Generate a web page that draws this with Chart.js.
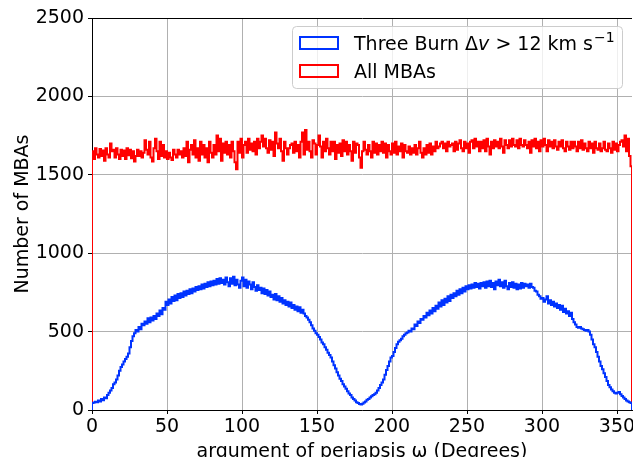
<!DOCTYPE html>
<html lang="en">
<head>
    <meta charset="UTF-8">
    <title>Argument of periapsis histogram</title>
    <script src="https://cdn.jsdelivr.net/npm/chart.js"></script>
    <style>
        html, body { margin: 0; padding: 0; background: #fff; }
        #wrap { width: 633px; height: 457px; }
    </style>
</head>
<body>
<div id="wrap"><canvas id="histChart" width="633" height="457"></canvas></div>
<script>
// histogram counts, one bin per degree (0..359)
const threeBurnCounts = [
    45, 48, 52, 50, 60, 55, 70, 62, 80, 75,
    95, 110, 125, 140, 165, 175, 195, 220, 250, 275,
    290, 310, 325, 340, 360, 400, 440, 470, 490, 510,
    500, 530, 515, 550, 540, 565, 550, 585, 560, 590,
    570, 600, 580, 615, 600, 635, 610, 650, 640, 690,
    670, 705, 680, 720, 695, 730, 700, 740, 715, 745,
    720, 755, 730, 760, 740, 770, 745, 775, 755, 785,
    765, 790, 770, 800, 775, 805, 785, 815, 790, 820,
    795, 825, 800, 835, 805, 840, 810, 830, 800, 845,
    815, 790, 840, 805, 850, 795, 830, 800, 780, 825,
    845, 790, 830, 780, 820, 800, 770, 815, 785, 760,
    795, 765, 780, 745, 775, 740, 765, 730, 755, 720,
    735, 705, 740, 700, 725, 690, 715, 680, 700, 670,
    690, 660, 685, 650, 670, 640, 660, 630, 655, 620,
    640, 615, 600, 590, 575, 560, 540, 520, 505, 490,
    480, 465, 450, 430, 420, 400, 385, 365, 350, 335,
    310, 285, 265, 240, 220, 200, 185, 165, 150, 135,
    120, 105, 95, 80, 70, 60, 50, 45, 38, 35,
    40, 48, 55, 65, 70, 80, 88, 95, 100, 110,
    125, 140, 160, 175, 195, 225, 255, 280, 310, 335,
    345, 370, 395, 420, 435, 445, 455, 470, 480, 490,
    495, 505, 500, 520, 515, 545, 535, 565, 555, 580,
    575, 600, 590, 620, 605, 635, 615, 650, 630, 665,
    645, 685, 660, 700, 670, 710, 685, 725, 695, 735,
    715, 745, 725, 760, 735, 770, 745, 780, 755, 790,
    770, 795, 775, 800, 780, 810, 785, 805, 775, 810,
    790, 815, 780, 820, 790, 825, 785, 810, 770, 820,
    795, 830, 790, 815, 780, 825, 790, 770, 810, 785,
    815, 780, 805, 770, 800, 775, 810, 780, 805, 790,
    800, 780, 805, 785, 780, 760, 755, 735, 725, 710,
    715, 690, 705, 725, 680, 700, 670, 690, 660, 680,
    650, 670, 640, 665, 625, 645, 615, 630, 600, 620,
    580, 560, 545, 530, 525, 530, 520, 515, 510, 505,
    510, 500, 480, 450, 420, 400, 370, 340, 310, 280,
    260, 235, 210, 185, 160, 145, 130, 120, 110, 105,
    110, 115, 100, 90, 80, 70, 60, 55, 50, 45
];

const allMbaCounts = [
    1650, 1600, 1670, 1630, 1610, 1665, 1620, 1655, 1590, 1670,
    1630, 1610, 1700, 1650, 1660, 1610, 1670, 1630, 1600, 1660,
    1620, 1655, 1600, 1670, 1625, 1660, 1605, 1650, 1585, 1620,
    1660, 1620, 1650, 1610, 1640, 1720, 1660, 1630, 1710, 1610,
    1585, 1670, 1730, 1650, 1600, 1710, 1620, 1690, 1610, 1650,
    1600, 1640, 1610, 1595, 1660, 1630, 1610, 1660, 1630, 1650,
    1610, 1670, 1620, 1710, 1580, 1660, 1690, 1630, 1720, 1610,
    1670, 1590, 1710, 1630, 1690, 1610, 1670, 1580, 1710, 1640,
    1610, 1690, 1630, 1750, 1650, 1730, 1590, 1700, 1640, 1710,
    1630, 1690, 1610, 1710, 1650, 1580, 1535, 1710, 1640, 1730,
    1610, 1690, 1710, 1640, 1730, 1660, 1700, 1650, 1710, 1630,
    1730, 1670, 1710, 1750, 1680, 1730, 1670, 1640, 1720, 1660,
    1710, 1620, 1770, 1700, 1670, 1730, 1650, 1590, 1710, 1670,
    1630, 1670, 1690, 1700, 1640, 1710, 1650, 1690, 1610, 1710,
    1770, 1630, 1785, 1660, 1710, 1650, 1610, 1720, 1700, 1630,
    1690, 1750, 1680, 1610, 1710, 1650, 1730, 1670, 1630, 1710,
    1650, 1710, 1600, 1690, 1640, 1700, 1620, 1720, 1650, 1710,
    1630, 1690, 1650, 1590, 1710, 1640, 1700, 1690, 1610, 1545,
    1650, 1710, 1660, 1630, 1690, 1650, 1610, 1710, 1640, 1700,
    1630, 1690, 1650, 1710, 1640, 1700, 1610, 1690, 1650, 1630,
    1700, 1640, 1710, 1630, 1680, 1650, 1700, 1610, 1690, 1650,
    1640, 1680, 1630, 1670, 1640, 1690, 1630, 1670, 1710, 1640,
    1610, 1670, 1630, 1690, 1640, 1700, 1630, 1680, 1650, 1710,
    1670, 1680, 1700, 1710, 1670, 1700, 1650, 1710, 1680, 1690,
    1700, 1650, 1710, 1660, 1700, 1720, 1670, 1650, 1710, 1670,
    1700, 1640, 1710, 1720, 1670, 1730, 1680, 1710, 1650, 1710,
    1670, 1720, 1650, 1730, 1680, 1630, 1710, 1670, 1720, 1680,
    1710, 1670, 1730, 1680, 1640, 1720, 1690, 1670, 1720, 1680,
    1730, 1690, 1680, 1720, 1670, 1730, 1690, 1680, 1720, 1690,
    1670, 1710, 1640, 1720, 1680, 1730, 1670, 1710, 1650, 1720,
    1680, 1730, 1690, 1650, 1720, 1680, 1710, 1670, 1720, 1680,
    1660, 1710, 1680, 1720, 1670, 1650, 1710, 1680, 1660, 1710,
    1670, 1710, 1680, 1650, 1710, 1670, 1720, 1660, 1700, 1670,
    1650, 1710, 1670, 1700, 1640, 1710, 1670, 1660, 1700, 1650,
    1670, 1710, 1660, 1650, 1700, 1670, 1640, 1710, 1660, 1700,
    1650, 1690, 1710, 1720, 1680, 1750, 1650, 1730, 1620, 1555
];

const xTicks = [0, 50, 100, 150, 200, 250, 300, 350];
const yTicks = [0, 500, 1000, 1500, 2000, 2500];
const binWidth = 1;   // degrees

// turn bin counts into a step outline (like matplotlib histtype='step')
function stepOutline(counts) {
    const pts = [{ x: 0, y: 0 }];
    counts.forEach((c, i) => pts.push({ x: i * binWidth, y: c }));
    pts.push({ x: counts.length * binWidth, y: 0 });
    return pts;
}

const FONT = 'DejaVu Sans';

// legend drawn inside the plot, top right
const insideLegend = {
    id: 'insideLegend',
    afterDraw(chart) {
        const ctx = chart.ctx;
        ctx.save();
        // frame
        const bx = 292.5, by = 26.5, bw = 330, bh = 62;
        ctx.fillStyle = 'rgba(255,255,255,0.8)';
        ctx.strokeStyle = '#cccccc';
        ctx.lineWidth = 1;
        ctx.beginPath();
        ctx.roundRect(bx, by, bw, bh, 4);
        ctx.fill();
        ctx.stroke();

        // swatches
        ctx.lineWidth = 2;
        ctx.strokeStyle = '#0033ff';
        ctx.strokeRect(300, 37, 38, 12);
        ctx.strokeStyle = '#ff0000';
        ctx.strokeRect(300, 65, 38, 12);

        // labels
        ctx.fillStyle = '#000';
        ctx.textBaseline = 'alphabetic';
        let x = 354;
        const y1 = 50;
        const parts = [
            ['Three Burn Δ', '19px'],
            ['v', 'italic 19px'],
            [' > 12 km s', '19px']
        ];
        parts.forEach(([t, f]) => {
            ctx.font = f + ' "' + FONT + '"';
            ctx.fillText(t, x, y1);
            x += ctx.measureText(t).width;
        });
        ctx.font = '14px "' + FONT + '"';
        ctx.fillText('\u22121', x + 1, y1 - 8);

        ctx.font = '19px "' + FONT + '"';
        ctx.fillText('All MBAs', 354, 78);
        ctx.restore();
    }
};

const ctx = document.getElementById('histChart').getContext('2d');
new Chart(ctx, {
    type: 'line',
    data: {
        datasets: [
            {
                label: 'Three Burn Δv > 12 km s⁻¹',
                data: stepOutline(threeBurnCounts),
                borderColor: '#0033ff',
                borderWidth: 2,
                stepped: 'before',
                pointRadius: 0,
                fill: false
            },
            {
                label: 'All MBAs',
                data: stepOutline(allMbaCounts),
                borderColor: '#ff0000',
                borderWidth: 2,
                stepped: 'before',
                pointRadius: 0,
                fill: false
            }
        ]
    },
    options: {
        responsive: false,
        animation: false,
        events: [],
        layout: { padding: { left: 0, top: 18, right: 1, bottom: 0 } },
        plugins: {
            legend: { display: false },
            tooltip: { enabled: false }
        },
        scales: {
            x: {
                type: 'linear',
                min: 0,
                max: 360,
                afterBuildTicks: s => { s.ticks = xTicks.map(v => ({ value: v })); },
                afterFit: s => { s.height = 47; s.paddingLeft = 0; s.paddingRight = 0; },
                ticks: {
                    autoSkip: false,
                    maxRotation: 0,
                    padding: 2,
                    color: '#000',
                    font: { family: FONT, size: 19 },
                    callback: v => String(v)
                },
                grid: { color: '#b0b0b0', tickColor: '#000', tickLength: 4 },
                border: { color: '#000', width: 1 },
                title: {
                    display: true,
                    text: 'argument of periapsis ω (Degrees)',
                    color: '#000',
                    font: { family: FONT, size: 19 },
                    padding: { top: 0, bottom: -6 }
                }
            },
            y: {
                min: 0,
                max: 2500,
                afterBuildTicks: s => { s.ticks = yTicks.map(v => ({ value: v })); },
                afterFit: s => { s.width = 92; s.paddingTop = 0; s.paddingBottom = 0; },
                ticks: {
                    padding: 4,
                    color: '#000',
                    font: { family: FONT, size: 19 },
                    callback: v => String(v)
                },
                grid: {
                    color: c => (c.tick && c.tick.value === 2500 ? '#000' : '#b0b0b0'),
                    tickColor: '#000',
                    tickLength: 4
                },
                border: { color: '#000', width: 1 },
                title: {
                    display: true,
                    text: 'Number of MBAs',
                    color: '#000',
                    font: { family: FONT, size: 19 },
                    padding: { top: 12, bottom: 0 }
                }
            }
        }
    },
    plugins: [insideLegend]
});
</script>
</body>
</html>
